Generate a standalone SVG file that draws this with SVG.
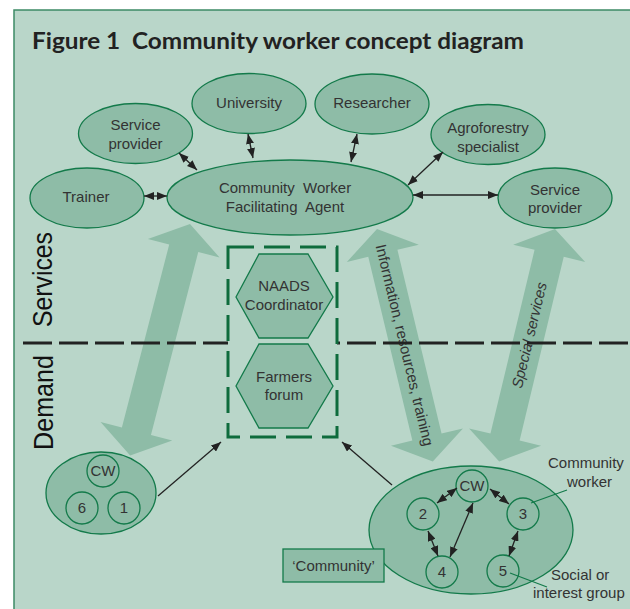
<svg xmlns="http://www.w3.org/2000/svg" width="630" height="609" viewBox="0 0 630 609">
<style>
text{font-family:"Liberation Sans",Arial,sans-serif;fill:#333;}
.lbl{font-size:15px;text-anchor:middle;}
.node{fill:#8ebca7;stroke:#137a4a;stroke-width:1.3;}
.ring{fill:none;stroke:#137a4a;stroke-width:1.3;}
.big{fill:#8ebca7;}
.con{stroke:#222;stroke-width:1.3;fill:none;}
.call{stroke:#137a4a;stroke-width:1.2;fill:none;}
.dash{stroke:#222;stroke-width:3;stroke-dasharray:29 7;}
.pre{white-space:pre;}
</style>
<defs>
<marker id="ah" viewBox="0 0 10 8" refX="10" refY="4" markerWidth="10" markerHeight="8" markerUnits="userSpaceOnUse" orient="auto-start-reverse">
<path d="M0,0 L10,4 L0,8 z" fill="#222"/>
</marker>
<path id="bigarrow" d="M0,0 L25,37 L25,15 L214,15 L214,37 L239,0 L214,-37 L214,-15 L25,-15 L25,-37 Z"/>
</defs>
<rect x="0" y="0" width="630" height="609" fill="#ffffff"/>
<rect x="14" y="10" width="630" height="620" fill="#b9d6c9" stroke="#3c8a66" stroke-width="1.5"/>
<text class="pre" x="32" y="49" style="font-family:Lato,'Liberation Sans',sans-serif;font-size:22px;font-weight:bold;fill:#222" textLength="492" lengthAdjust="spacingAndGlyphs">Figure 1  Community worker concept diagram</text>

<g id="big-arrows">
<use href="#bigarrow" class="big" transform="translate(190,224) rotate(104.5)"/>
<use href="#bigarrow" class="big" transform="translate(377,229) rotate(76.5)"/>
<use href="#bigarrow" class="big" transform="translate(555,229) rotate(103.5)"/>
<text class="lbl" transform="translate(405,345) rotate(76.5)" dominant-baseline="central">Information, resources, training</text>
<text class="lbl" transform="translate(529,335) rotate(-76.5)" dominant-baseline="central" style="font-style:italic">Special services</text>
</g>

<g id="divider">
<line class="dash" x1="23" y1="343" x2="228" y2="343"/>
<line class="dash" x1="337" y1="343" x2="630" y2="343" stroke-dashoffset="26"/>
<text transform="translate(53,450) rotate(-90)" style="font-size:27px;fill:#111" textLength="95" lengthAdjust="spacingAndGlyphs">Demand</text>
<text transform="translate(52,327) rotate(-90)" style="font-size:27px;fill:#111" textLength="95" lengthAdjust="spacingAndGlyphs">Services</text>
</g>

<g id="naads-box">
<rect x="228" y="247" width="109" height="190" fill="none" stroke="#0e6b3c" stroke-width="3" stroke-dasharray="26 10"/>
</g>
<g id="naads">
<polygon class="node" points="236,297 259,254 308,254 333,297 308,338 259,338"/>
<text class="lbl" x="284" y="291">NAADS</text>
<text class="lbl" x="284" y="310">Coordinator</text>
</g>
<g id="forum">
<polygon class="node" points="236,386 259,344 308,344 333,386 308,428 259,428"/>
<text class="lbl" x="284" y="382">Farmers</text>
<text class="lbl" x="284" y="400">forum</text>
</g>

<g id="university">
<ellipse class="node" cx="249" cy="103.5" rx="57" ry="30"/>
<text class="lbl" x="249" y="108">University</text>
</g>
<g id="researcher">
<ellipse class="node" cx="372" cy="104" rx="57" ry="30"/>
<text class="lbl" x="372" y="108">Researcher</text>
</g>
<g id="service-provider-1">
<ellipse class="node" cx="135.5" cy="133.5" rx="57" ry="30"/>
<text class="lbl" x="135.5" y="130">Service</text>
<text class="lbl" x="135.5" y="149">provider</text>
</g>
<g id="agroforestry">
<ellipse class="node" cx="488" cy="134.5" rx="57" ry="30"/>
<text class="lbl" x="488" y="133">Agroforestry</text>
<text class="lbl" x="488" y="152">specialist</text>
</g>
<g id="trainer">
<ellipse class="node" cx="87" cy="198" rx="57" ry="30"/>
<text class="lbl" x="86" y="202">Trainer</text>
</g>
<g id="cwfa">
<ellipse class="node" cx="290" cy="197.5" rx="123" ry="37.5"/>
<text class="lbl pre" x="285" y="193">Community  Worker</text>
<text class="lbl pre" x="285" y="212">Facilitating  Agent</text>
</g>
<g id="service-provider-2">
<ellipse class="node" cx="555" cy="198" rx="57" ry="30"/>
<text class="lbl" x="555" y="195">Service</text>
<text class="lbl" x="555" y="213">provider</text>
</g>

<g id="group-left">
<ellipse class="node" cx="101" cy="493" rx="55" ry="41"/>
<circle class="ring" cx="103" cy="471" r="16"/>
<circle class="ring" cx="82" cy="508" r="16"/>
<circle class="ring" cx="124" cy="508" r="16"/>
<text class="lbl" x="103" y="476">CW</text>
<text class="lbl" x="82" y="513">6</text>
<text class="lbl" x="124" y="513">1</text>
</g>

<g id="community">
<ellipse class="node" cx="471" cy="530" rx="102" ry="64"/>
<circle class="ring" cx="472" cy="486" r="16"/>
<circle class="ring" cx="423" cy="514" r="16"/>
<circle class="ring" cx="523" cy="514" r="16"/>
<circle class="ring" cx="442" cy="572" r="16"/>
<circle class="ring" cx="503" cy="571" r="16"/>
<text class="lbl" x="472" y="491">CW</text>
<text class="lbl" x="423" y="519">2</text>
<text class="lbl" x="523" y="519">3</text>
<text class="lbl" x="442" y="577">4</text>
<text class="lbl" x="503" y="576">5</text>
</g>

<g id="community-label">
<rect x="283" y="549" width="101" height="33" fill="#8ebca7" stroke="#137a4a" stroke-width="1.3"/>
<text class="lbl" x="333.5" y="571">‘Community’</text>
</g>

<g id="callouts">
<line class="call" x1="531" y1="503" x2="567" y2="490"/>
<line class="call" x1="510" y1="573" x2="547" y2="587"/>
<text x="548" y="468" style="font-size:15px">Community</text>
<text x="567" y="487" style="font-size:15px">worker</text>
<text x="551" y="580" style="font-size:15px">Social or</text>
<text x="533" y="598" style="font-size:15px">interest group</text>
</g>

<g id="connectors">
<line class="con" x1="179" y1="153" x2="197" y2="170" marker-start="url(#ah)" marker-end="url(#ah)"/>
<line class="con" x1="248" y1="134" x2="253" y2="158" marker-start="url(#ah)" marker-end="url(#ah)"/>
<line class="con" x1="357" y1="134" x2="351" y2="162" marker-start="url(#ah)" marker-end="url(#ah)"/>
<line class="con" x1="443" y1="152" x2="408" y2="185" marker-start="url(#ah)" marker-end="url(#ah)"/>
<line class="con" x1="144" y1="196" x2="167" y2="196" marker-start="url(#ah)" marker-end="url(#ah)"/>
<line class="con" x1="413" y1="195" x2="498" y2="195" marker-start="url(#ah)" marker-end="url(#ah)"/>
<line class="con" x1="158" y1="496" x2="221" y2="442" marker-end="url(#ah)"/>
<line class="con" x1="392" y1="485" x2="342" y2="442" marker-end="url(#ah)"/>
<line class="con" x1="457" y1="488" x2="437" y2="503" marker-start="url(#ah)" marker-end="url(#ah)"/>
<line class="con" x1="490" y1="489" x2="509" y2="504" marker-start="url(#ah)" marker-end="url(#ah)"/>
<line class="con" x1="428" y1="531" x2="438" y2="556" marker-start="url(#ah)" marker-end="url(#ah)"/>
<line class="con" x1="473" y1="503" x2="450" y2="557" marker-start="url(#ah)" marker-end="url(#ah)"/>
<line class="con" x1="518" y1="531" x2="509" y2="556" marker-start="url(#ah)" marker-end="url(#ah)"/>
</g>
</svg>
